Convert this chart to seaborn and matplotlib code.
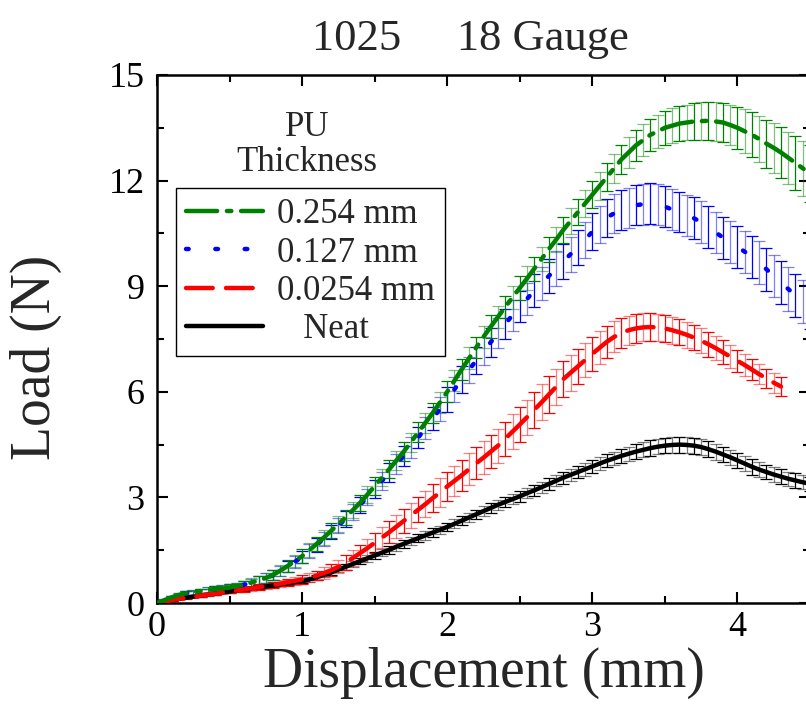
import numpy as np
import pandas as pd
import matplotlib.pyplot as plt
import seaborn as sns
from matplotlib.ticker import MultipleLocator

# displacement grid (mm), every 0.05 mm
disp = np.round(np.linspace(0, 4.5, 91), 2)
disp_red = disp[:87]  # the 0.0254 mm series stops at 4.30 mm

# mean load (N)
load_254 = [0.00, 0.08, 0.16, 0.23, 0.28, 0.31, 0.34, 0.37, 0.39, 0.41, 0.44,
            0.48, 0.52, 0.58, 0.64, 0.71, 0.80, 0.92, 1.05, 1.19, 1.33,
            1.50, 1.68, 1.86, 2.05, 2.24, 2.43, 2.64, 2.85, 3.08, 3.32,
            3.56, 3.80, 4.05, 4.30, 4.57, 4.85, 5.12, 5.40, 5.70, 6.00,
            6.32, 6.64, 6.95, 7.26, 7.56, 7.85, 8.13, 8.41, 8.68, 8.95,
            9.22, 9.50, 9.77, 10.05, 10.32, 10.60, 10.85, 11.10, 11.35, 11.60,
            11.85, 12.10, 12.35, 12.60, 12.80, 13.00, 13.15, 13.30, 13.40, 13.50,
            13.56, 13.62, 13.65, 13.68, 13.69, 13.70, 13.68, 13.65, 13.58, 13.50,
            13.40, 13.30, 13.18, 13.05, 12.93, 12.80, 12.65, 12.50, 12.35, 12.20]
load_127 = [0.00, 0.08, 0.16, 0.23, 0.28, 0.31, 0.34, 0.37, 0.39, 0.41, 0.44,
            0.48, 0.52, 0.57, 0.63, 0.70, 0.79, 0.91, 1.03, 1.17, 1.31,
            1.48, 1.65, 1.83, 2.01, 2.20, 2.39, 2.59, 2.79, 3.01, 3.24,
            3.47, 3.70, 3.94, 4.18, 4.43, 4.70, 4.97, 5.24, 5.51, 5.79,
            6.07, 6.35, 6.62, 6.89, 7.15, 7.41, 7.67, 7.93, 8.18, 8.42,
            8.64, 8.87, 9.08, 9.29, 9.50, 9.70, 9.91, 10.11, 10.32, 10.55,
            10.76, 10.95, 11.07, 11.16, 11.23, 11.30, 11.33, 11.34, 11.31, 11.26,
            11.18, 11.11, 11.02, 10.93, 10.82, 10.68, 10.53, 10.38, 10.25, 10.12,
            9.98, 9.82, 9.66, 9.48, 9.29, 9.10, 8.92, 8.74, 8.57, 8.40]
load_0254 = [0.00, 0.04, 0.08, 0.12, 0.15, 0.18, 0.21, 0.24, 0.27, 0.30, 0.33,
             0.36, 0.39, 0.42, 0.45, 0.48, 0.51, 0.55, 0.59, 0.63, 0.67,
             0.72, 0.78, 0.85, 0.93, 1.03, 1.15, 1.28, 1.42, 1.56, 1.71,
             1.86, 2.01, 2.17, 2.33, 2.49, 2.65, 2.81, 2.98, 3.14, 3.31,
             3.47, 3.63, 3.80, 3.97, 4.13, 4.30, 4.47, 4.67, 4.87, 5.07,
             5.28, 5.49, 5.70, 5.92, 6.14, 6.36, 6.54, 6.72, 6.90, 7.08,
             7.25, 7.42, 7.56, 7.67, 7.75, 7.80, 7.83, 7.84, 7.83, 7.80,
             7.75, 7.69, 7.62, 7.54, 7.45, 7.35, 7.24, 7.12, 7.00, 6.88,
             6.76, 6.63, 6.50, 6.38, 6.26, 6.15]
load_neat = [0.00, 0.04, 0.08, 0.12, 0.15, 0.18, 0.21, 0.24, 0.27, 0.30, 0.33,
             0.36, 0.39, 0.42, 0.45, 0.47, 0.50, 0.53, 0.56, 0.59, 0.62,
             0.67, 0.73, 0.80, 0.87, 0.95, 1.03, 1.11, 1.19, 1.27, 1.35,
             1.43, 1.51, 1.60, 1.68, 1.76, 1.84, 1.92, 2.00, 2.08, 2.16,
             2.25, 2.34, 2.43, 2.52, 2.61, 2.70, 2.79, 2.87, 2.95, 3.03,
             3.12, 3.20, 3.29, 3.38, 3.47, 3.56, 3.64, 3.72, 3.80, 3.88,
             3.96, 4.04, 4.11, 4.18, 4.24, 4.30, 4.35, 4.40, 4.44, 4.47,
             4.49, 4.50, 4.49, 4.47, 4.43, 4.37, 4.30, 4.22, 4.14, 4.05,
             3.96, 3.87, 3.79, 3.72, 3.65, 3.59, 3.53, 3.48, 3.43, 3.39]

# standard deviation (N)
err_254 = [0.03, 0.04, 0.05, 0.06, 0.06, 0.07, 0.07, 0.08, 0.08, 0.09, 0.09,
           0.10, 0.11, 0.12, 0.13, 0.14, 0.15, 0.16, 0.17, 0.18, 0.19,
           0.20, 0.20, 0.21, 0.21, 0.22, 0.22, 0.23, 0.23, 0.24, 0.25,
           0.25, 0.26, 0.26, 0.27, 0.27, 0.28, 0.28, 0.29, 0.29, 0.30,
           0.30, 0.30, 0.31, 0.31, 0.31, 0.32, 0.32, 0.32, 0.33, 0.33,
           0.34, 0.34, 0.35, 0.35, 0.36, 0.36, 0.37, 0.37, 0.38, 0.38,
           0.39, 0.40, 0.41, 0.42, 0.43, 0.44, 0.45, 0.46, 0.47, 0.48,
           0.49, 0.50, 0.51, 0.52, 0.53, 0.54, 0.55, 0.56, 0.58, 0.60,
           0.62, 0.64, 0.66, 0.68, 0.70, 0.72, 0.74, 0.76, 0.78, 0.80]
err_127 = [0.03, 0.04, 0.05, 0.06, 0.06, 0.07, 0.07, 0.08, 0.08, 0.09, 0.09,
           0.10, 0.11, 0.12, 0.13, 0.14, 0.15, 0.15, 0.16, 0.17, 0.18,
           0.19, 0.19, 0.20, 0.20, 0.21, 0.22, 0.22, 0.23, 0.24, 0.25,
           0.26, 0.27, 0.28, 0.29, 0.30, 0.31, 0.32, 0.33, 0.34, 0.35,
           0.36, 0.37, 0.38, 0.39, 0.40, 0.41, 0.42, 0.43, 0.44, 0.45,
           0.46, 0.47, 0.47, 0.48, 0.49, 0.49, 0.50, 0.50, 0.51, 0.52,
           0.53, 0.54, 0.55, 0.56, 0.57, 0.57, 0.58, 0.58, 0.58, 0.58,
           0.58, 0.58, 0.58, 0.59, 0.59, 0.59, 0.59, 0.60, 0.60, 0.60,
           0.60, 0.60, 0.61, 0.61, 0.61, 0.61, 0.62, 0.62, 0.62, 0.62]
err_0254 = [0.02, 0.02, 0.03, 0.03, 0.03, 0.04, 0.04, 0.04, 0.05, 0.05, 0.06,
            0.06, 0.07, 0.07, 0.08, 0.08, 0.09, 0.10, 0.10, 0.11, 0.12,
            0.13, 0.14, 0.16, 0.17, 0.19, 0.20, 0.22, 0.24, 0.26, 0.28,
            0.29, 0.31, 0.32, 0.34, 0.35, 0.36, 0.38, 0.39, 0.40, 0.42,
            0.43, 0.44, 0.45, 0.46, 0.46, 0.47, 0.48, 0.48, 0.49, 0.50,
            0.50, 0.51, 0.51, 0.52, 0.52, 0.52, 0.51, 0.50, 0.49, 0.48,
            0.47, 0.45, 0.44, 0.42, 0.41, 0.40, 0.40, 0.39, 0.39, 0.38,
            0.38, 0.37, 0.37, 0.36, 0.36, 0.35, 0.34, 0.34, 0.33, 0.32,
            0.31, 0.30, 0.29, 0.28, 0.28, 0.27]
err_neat = [0.01, 0.01, 0.02, 0.02, 0.02, 0.02, 0.03, 0.03, 0.03, 0.03, 0.04,
            0.04, 0.04, 0.04, 0.05, 0.05, 0.05, 0.05, 0.06, 0.06, 0.06,
            0.07, 0.07, 0.07, 0.08, 0.08, 0.08, 0.09, 0.09, 0.10, 0.10,
            0.10, 0.11, 0.11, 0.11, 0.11, 0.12, 0.12, 0.12, 0.12, 0.12,
            0.13, 0.13, 0.13, 0.13, 0.14, 0.14, 0.14, 0.14, 0.15, 0.15,
            0.15, 0.15, 0.16, 0.16, 0.16, 0.17, 0.17, 0.17, 0.18, 0.18,
            0.18, 0.19, 0.19, 0.20, 0.20, 0.21, 0.21, 0.22, 0.22, 0.22,
            0.23, 0.23, 0.23, 0.23, 0.23, 0.23, 0.23, 0.22, 0.22, 0.22,
            0.22, 0.22, 0.21, 0.21, 0.21, 0.21, 0.20, 0.20, 0.20, 0.20]

labels = ['0.254 mm', '0.127 mm', '0.0254 mm', '   Neat']
colors = ['#008000', '#0000ff', '#ff0000', '#000000']
styles = [(0, (7, 2.2, 1, 2.2)), (0, (0.6, 6)), (0, (6, 3)), '-']

series = [
    (disp, load_254, err_254),
    (disp, load_127, err_127),
    (disp_red, load_0254, err_0254),
    (disp, load_neat, err_neat),
]

sns.set_style('ticks')
plt.rcParams['font.family'] = ['Liberation Serif', 'DejaVu Serif']

fig = plt.figure(figsize=(8.06, 7.15), dpi=100)
ax = fig.add_axes([157 / 806, 112 / 715, 653 / 806, 528 / 715])

# error bars first (neat at the bottom, 0.254 on top), alternating shade
for i in [3, 2, 1, 0]:
    x, y, e = series[i]
    x = np.asarray(x); y = np.asarray(y); e = np.asarray(e)
    for sl, a in [(slice(0, None, 2), 1.0), (slice(1, None, 2), 0.5)]:
        ax.errorbar(x[sl], y[sl], yerr=e[sl], fmt='none', ecolor=colors[i],
                    elinewidth=0.9, capsize=4, capthick=0.9, alpha=a, zorder=2)

handles = []
for i in [3, 2, 1, 0]:
    x, y, e = series[i]
    df = pd.DataFrame({'Displacement': x, 'Load': y})
    sns.lineplot(data=df, x='Displacement', y='Load', color=colors[i],
                 linewidth=3.2, linestyle=styles[i], errorbar=None, ax=ax,
                 zorder=3)
    ax.lines[-1].set_dash_capstyle('round')
    handles.insert(0, ax.lines[-1])

ax.set_xlim(0, 4.5)
ax.set_ylim(0, 15)
ax.xaxis.set_major_locator(MultipleLocator(1))
ax.xaxis.set_minor_locator(MultipleLocator(0.5))
ax.yaxis.set_major_locator(MultipleLocator(3))
ax.yaxis.set_minor_locator(MultipleLocator(1.5))
ax.tick_params(which='both', direction='in', top=True, right=True,
               width=1.5, colors='black', labelsize=26)
ax.tick_params(which='major', length=8, pad=6)
ax.tick_params(which='minor', length=5)
ax.tick_params(axis='y', pad=9)
for s in ax.spines.values():
    s.set_linewidth(1.8)
    s.set_color('black')

ax.set_xlabel('Displacement (mm)', fontsize=40)
ax.set_ylabel('Load (N)', fontsize=40)
ax.xaxis.set_label_coords(0.5, -0.083)
ax.yaxis.set_label_coords(-0.145, 0.466)

fig.text(470 / 806, 665 / 715, '1025     18 Gauge', fontsize=32,
         ha='center', va='baseline')

leg = ax.legend(handles=handles, labels=labels, loc='upper left',
                bbox_to_anchor=(0.029, 0.786), borderaxespad=0,
                fontsize=25, frameon=True, fancybox=False, framealpha=1,
                edgecolor='black', handlelength=2.2, handletextpad=0.4,
                borderpad=0.3, labelspacing=0.15)
leg.get_frame().set_linewidth(1.0)
ax.text(0.23, 0.867, 'PU\nThickness', transform=ax.transAxes, fontsize=25,
        ha='center', va='center', linespacing=1.1)

fig.savefig('out.png', dpi=100, facecolor='white')
